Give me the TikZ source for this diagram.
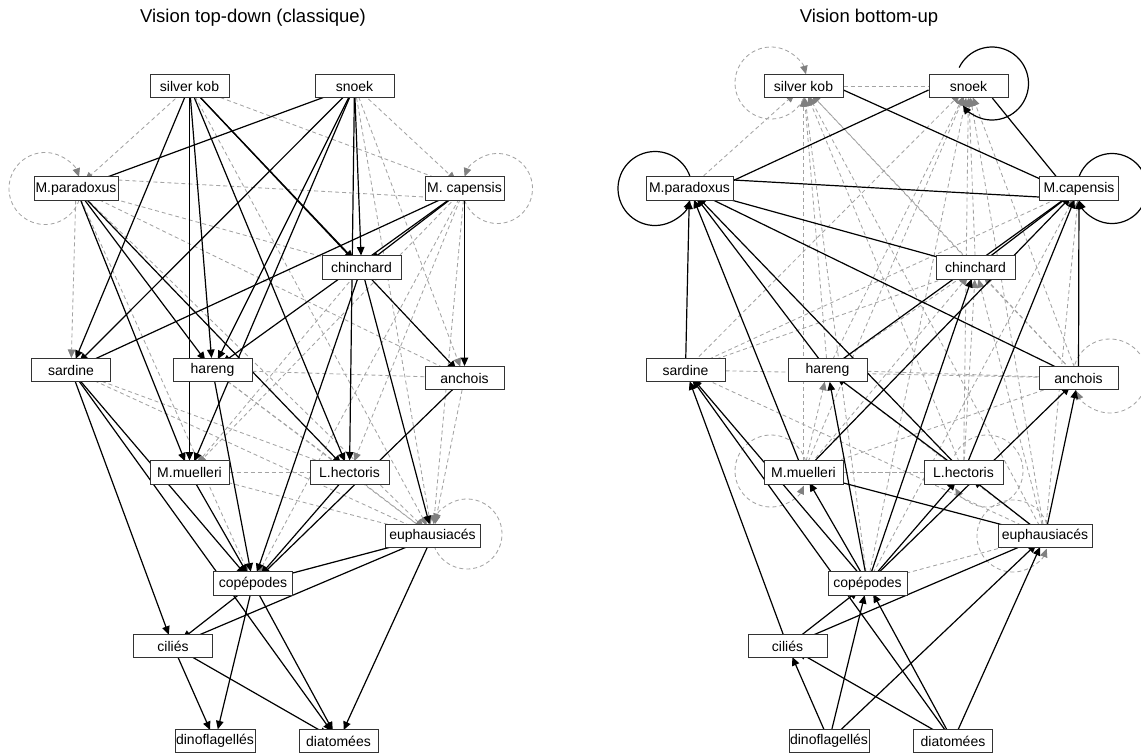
\documentclass[tikz,border=0pt]{standalone}
\usepackage{fontspec}
\setmainfont{Liberation Sans}
\usetikzlibrary{arrows.meta,calc}
\pgfdeclarelayer{bg}
\pgfsetlayers{bg,main}
\tikzset{
  box/.style={draw=black!80, line width=0.8pt, fill=white, minimum width=79pt,
    minimum height=23.5pt, inner xsep=1pt, inner ysep=0pt,
    font=\fontsize{14}{15}\selectfont},
  ttl/.style={font=\fontsize{18.5}{20}\selectfont},
  tipS/.style={-{Triangle[length=8.5pt,width=7.5pt]}},
  tipD/.style={-{Triangle[length=8.5pt,width=7.5pt,color=black!50,fill=black!50]}},
  sline/.style={black, line width=1.2pt},
  dline/.style={black!36, line width=0.85pt, dash pattern=on 4pt off 3pt},
  sedge/.style={sline, tipS, shorten <=12pt, shorten >=12pt},
  dedge/.style={dline, tipD, shorten <=12pt, shorten >=12pt},
  sloop/.style={sline, tipS},
  dloop/.style={dline, tipD},
}
\begin{document}
\begin{tikzpicture}[x=1pt,y=1pt]
\useasboundingbox (0,0) rectangle (1141,-753);
% titles
\node[ttl] (t1) at (253,-18) {Vision top-down (classique)};
\node[ttl] (t2) at (869,-18) {Vision bottom-up};
% ---------- left graph nodes ----------
\node[box] (Lsk) at (189.5,-86) {silver kob};
\node[box] (Lsn) at (354.5,-86) {snoek};
\node[box, minimum width=84pt] (Lmp) at (76,-188.5) {M.paradoxus};
\node[box] (Lmc) at (464.5,-188.5) {M. capensis};
\node[box] (Lch) at (361.5,-267.5) {chinchard};
\node[box] (Lsa) at (71,-370) {sardine};
\node[box] (Lha) at (212.5,-370) {hareng};
\node[box] (Lan) at (464.5,-378) {anchois};
\node[box] (Lmm) at (189.5,-472.5) {M.muelleri};
\node[box] (Llh) at (349.5,-472.5) {L.hectoris};
\node[box, minimum width=95pt] (Leu) at (432.5,-536) {euphausiacés};
\node[box] (Lco) at (253,-583.5) {copépodes};
\node[box] (Lci) at (173,-646) {ciliés};
\node[box, minimum width=78pt] (Ldi) at (215,-741) {dinoflagellés};
\node[box] (Ldt) at (338.5,-741) {diatomées};
% ---------- right graph nodes ----------
\node[box] (Rsk) at (803.5,-86) {silver kob};
\node[box] (Rsn) at (968.5,-86) {snoek};
\node[box, minimum width=87pt] (Rmp) at (689.5,-188.5) {M.paradoxus};
\node[box] (Rmc) at (1079,-188.5) {M.capensis};
\node[box] (Rch) at (975.5,-267.5) {chinchard};
\node[box] (Rsa) at (685.5,-370) {sardine};
\node[box] (Rha) at (827.5,-370) {hareng};
\node[box] (Ran) at (1078.5,-378) {anchois};
\node[box] (Rmm) at (803.5,-472.5) {M.muelleri};
\node[box] (Rlh) at (963.5,-472.5) {L.hectoris};
\node[box, minimum width=94pt] (Reu) at (1045,-536) {euphausiacés};
\node[box] (Rco) at (867.5,-583.5) {copépodes};
\node[box] (Rci) at (787.5,-646) {ciliés};
\node[box, minimum width=78pt] (Rdi) at (829,-741) {dinoflagellés};
\node[box] (Rdt) at (953,-741) {diatomées};

\begin{pgfonlayer}{bg}
% ---------- left: dashed (weak) links ----------
\foreach \a/\b in {sk/mp, sk/mc, sk/eu, sn/mc, sn/an, sn/eu, mp/sa, mp/ch,
  mp/an, mp/eu, mp/co, mc/mm, mc/lh, mc/eu, mc/co, ch/mm, sa/eu, sa/lh, ha/eu,
  ha/an, ha/lh, mm/eu, mm/lh, lh/eu, an/eu, co/eu}
  \draw[dedge] (L\a.center) -- (L\b.center);
\draw[dline] ($(Lmp.east)+(0,8.5)$) -- ($(Lmc.west)+(0,-8.5)$);
% loops left
\draw[dloop] ($(Lmp.center)+(-31,0)$) ++(-19:36) arc[start angle=-19, end angle=-341, radius=36];
\draw[dloop] ($(Lmc.center)+(33,0)$) ++(200:35) arc[start angle=200, end angle=520, radius=35];
\draw[dloop] ($(Leu.center)+(34.5,2)$) ++(200:35) arc[start angle=200, end angle=520, radius=35];
% ---------- left: solid links ----------
\foreach \a/\b in {sn/mp, sk/sa, sk/mm, sk/ha, sk/lh, sk/ch, sk/an, sn/sa, sn/ha, sn/mm,
  sn/ch, sn/lh, mp/mm, mp/ha, mp/lh, mc/ch, mc/sa, mc/ha, mc/an, ch/co, ch/eu,
  sa/ci, sa/co, sa/dt, ha/co, mm/co, lh/co, an/co, eu/co, eu/ci, eu/dt, co/ci,
  co/di, co/dt, ci/di, ci/dt}
  \draw[sedge] (L\a.center) -- (L\b.center);

% ---------- right: dashed links ----------
\foreach \a/\b in {mp/sk, ha/sk, mm/sk, ch/sk, lh/sk, an/sk, eu/sk, co/sk, sk/sn,
  sa/sn, ha/sn, mm/sn, ch/sn, lh/sn, an/sn, eu/sn, co/sn, sa/ch, ha/ch, mm/ch,
  lh/ch, eu/ch, an/ch, sa/mc, co/mc, eu/mc, mm/ha, eu/ha, lh/mm, sa/an, ha/an,
  mm/an, co/eu, eu/sa, mm/lh}
  \draw[dedge] (R\a.center) -- (R\b.center);
% loops right (dashed)
\draw[dloop] ($(Rsk.center)+(-32.5,3)$) ++(-26:36) arc[start angle=-26, end angle=-346, radius=36];
\draw[dloop] ($(Ran.center)+(31.5,2)$) ++(162:37) arc[start angle=162, end angle=-156, radius=37];
\draw[dloop] ($(Rmm.center)+(-32.5,1.5)$) ++(16:36) arc[start angle=16, end angle=336, radius=36];
\draw[dloop] ($(Rlh.center)+(23.5,1.5)$) ++(154.5:36) arc[start angle=154.5, end angle=-151.6, radius=36];
\draw[dloop] ($(Reu.center)+(-32,0)$) ++(20.6:36) arc[start angle=20.6, end angle=339.4, radius=36];
% ---------- right: solid links ----------
\foreach \a/\b in {ci/sa, co/sa, dt/sa, sa/mp, mm/mp, ha/mp, lh/mp, ch/mp, an/mp,
  ch/mc, ha/mc, mm/mc, lh/mc, an/mc, co/ha, co/mm,
  co/lh, co/an, co/ch, eu/mm, eu/lh, eu/an, ci/co, di/co, dt/co, ci/eu, di/eu,
  dt/eu, di/ci, dt/ci, lh/ha}
  \draw[sedge] (R\a.center) -- (R\b.center);
\draw[sline] ($(Rmp.east)+(0,8.5)$) -- ($(Rmc.west)+(0,-8.5)$);
\draw[sline] ($(Rsk.east)+(0,-4)$) -- ($(Rmc.west)+(0,10)$);
\draw[sline] ($(Rsn.west)+(0,-4)$) -- ($(Rmp.east)+(0,8)$);
\draw[sline] ($(Rsn.south east)+(-16,0)$) -- ($(Rmc.north west)+(17,0)$);
% loops right (solid)
\draw[sloop] ($(Rmp.center)+(-34.5,0)$) ++(18.4:37) arc[start angle=18.4, end angle=341.6, radius=37];
\draw[sloop] ($(Rmc.center)+(33,0)$) ++(160:35) arc[start angle=160, end angle=-160, radius=35];
\draw[sloop] ($(Rsn.center)+(23.5,2.5)$) ++(154:36.5) arc[start angle=154, end angle=-143, radius=36.5];
\end{pgfonlayer}
\end{tikzpicture}
\end{document}
